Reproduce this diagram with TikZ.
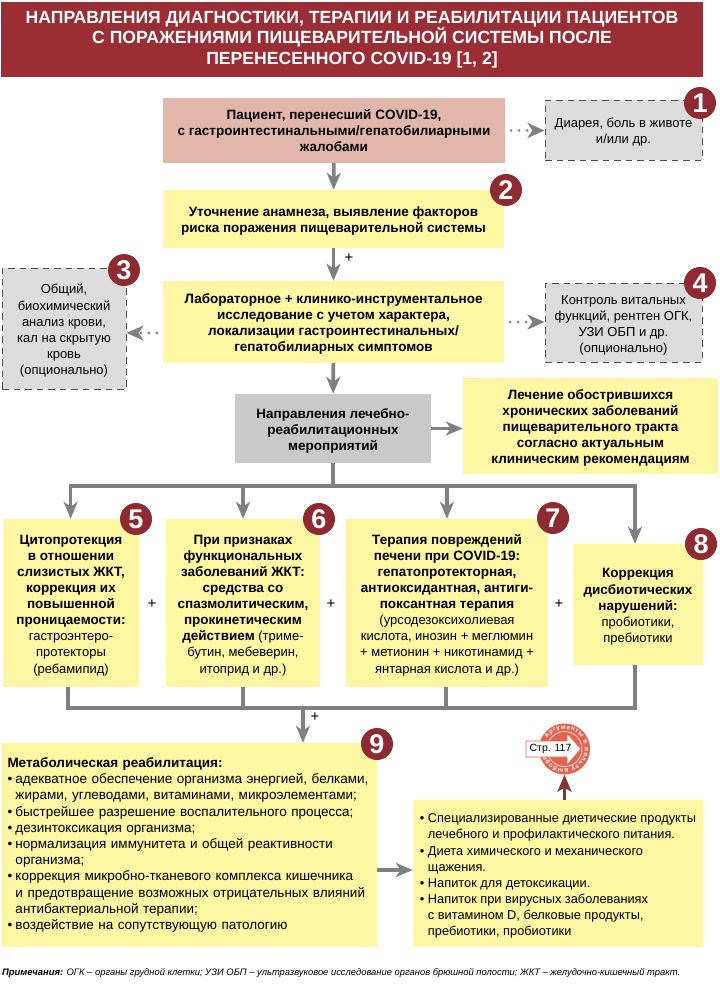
\documentclass[tikz,border=0pt]{standalone}
\usepackage{fontspec}
\setmainfont{Liberation Sans}
\usetikzlibrary{arrows.meta, decorations.text}
\definecolor{titlered}{HTML}{9B2D35}
\definecolor{badgered}{HTML}{8E2A32}
\definecolor{pinkbox}{HTML}{E2B7AB}
\definecolor{yellowbox}{HTML}{FDF6A3}
\definecolor{midgray}{HTML}{C9C9C9}
\definecolor{lightgray}{HTML}{DCDCDC}
\definecolor{linegray}{HTML}{808080}
\definecolor{stampred}{HTML}{E4644F}
\definecolor{stamparrow}{HTML}{7D3A3C}
\newcommand{\hd}{\fontsize{13.5}{16.1}\selectfont\bfseries}
\newcommand{\itm}{\makebox[8pt][l]{•}}
\newcommand{\cont}{\hspace*{8pt}}
\newcommand{\lift}{\rule{0pt}{14pt}}
\tikzset{
  plain/.style={inner sep=0pt, align=center, font=\fontsize{13}{16.1}\selectfont},
  yellow/.style={plain, fill=yellowbox},
  dashbox/.style={plain, fill=lightgray, draw=black!70, line width=1pt, dash pattern=on 6.5pt off 5pt},
  badge/.style={circle, fill=badgered, text=white, minimum size=32pt, inner sep=0pt, font=\fontsize{27}{27}\selectfont\bfseries},
  flow/.style={draw=linegray, line width=3.6pt, -{Stealth[inset=5pt, length=17pt, width=14pt]}},
  bus/.style={draw=linegray, line width=3.6pt},
  dotflow/.style={draw=linegray, line width=3pt, line cap=round, dash pattern=on 0pt off 8pt, shorten <=6pt, -{Stealth[inset=5pt, length=17pt, width=15pt]}},
  plus/.style={inner sep=0pt, font=\fontsize{15}{15}\selectfont}
}
\begin{document}
\begin{tikzpicture}[x=1pt, y=-1pt]
  \useasboundingbox (0,0) rectangle (720,988);

  \node[fill=titlered, text=white, align=center, minimum width=702pt, minimum height=75pt, inner sep=0pt,
    font=\fontsize{17.6}{20.2}\selectfont\bfseries] (title) at (352,39.5)
    {НАПРАВЛЕНИЯ ДИАГНОСТИКИ, ТЕРАПИИ И РЕАБИЛИТАЦИИ ПАЦИЕНТОВ\\
     С ПОРАЖЕНИЯМИ ПИЩЕВАРИТЕЛЬНОЙ СИСТЕМЫ ПОСЛЕ\\
     ПЕРЕНЕСЕННОГО COVID-19 [1, 2]};

  \node[plain, fill=pinkbox, minimum width=342pt, minimum height=65pt] (patient) at (334,130.5)
    {\hd Пациент, перенесший COVID-19,\\ \hd с гастроинтестинальными/гепатобилиарными\\ \hd жалобами};
  \node[yellow, minimum width=341pt, minimum height=58pt] (anamnesis) at (333.5,219)
    {\lift\hd Уточнение анамнеза, выявление факторов\\ \hd риска поражения пищеварительной системы};
  \node[yellow, minimum width=341pt, minimum height=82pt] (lab) at (333.5,322)
    {\lift\hd Лабораторное + клинико-инструментальное\\ \hd исследование с учетом характера,\\
     \hd локализации гастроинтестинальных/\\ \hd гепатобилиарных симптомов};
  \node[plain, fill=midgray, minimum width=196pt, minimum height=69pt] (directions) at (333,428.5)
    {\lift\hd Направления лечебно-\\ \hd реабилитационных\\ \hd мероприятий};
  \node[yellow, minimum width=255pt, minimum height=96pt] (chronic) at (590.5,426)
    {\lift\hd Лечение обострившихся\\ \hd хронических заболеваний\\ \hd пищеварительного тракта\\
     \hd согласно актуальным\\ \hd клиническим рекомендациям};

  \node[dashbox, minimum width=157pt, minimum height=60pt] (symptoms) at (623.5,130)
    {\lift Диарея, боль в животе\\ и/или др.};
  \node[dashbox, minimum width=124pt, minimum height=121pt] (blood) at (64,328.5)
    {\lift Общий,\\ биохимический\\ анализ крови,\\ кал на скрытую\\ кровь\\ (опционально)};
  \node[dashbox, minimum width=157pt, minimum height=79pt] (vitals) at (623.5,322.5)
    {\lift Контроль витальных\\ функций, рентген ОГК,\\ УЗИ ОБП и др.\\ (опционально)};

  \node[yellow, minimum width=136pt, minimum height=168pt] (cyto) at (71,603)
    {\lift\hd Цитопротекция\\ \hd в отношении\\ \hd слизистых ЖКТ,\\ \hd коррекция их\\ \hd повышенной\\
     \hd проницаемости:\\ гастроэнтеро-\\ протекторы\\ (ребамипид)};
  \node[yellow, minimum width=154pt, minimum height=168pt] (functional) at (243,603)
    {\lift\hd При признаках\\ \hd функциональных\\ \hd заболеваний ЖКТ:\\ \hd средства со\\ \hd спазмолитическим,\\
     \hd прокинетическим\\ {\hd действием} (триме-\\ бутин, мебеверин,\\ итоприд и др.)};
  \node[yellow, minimum width=202pt, minimum height=168pt] (liver) at (447,603)
    {\lift\hd Терапия повреждений\\ \hd печени при COVID-19:\\ \hd гепатопротекторная,\\ \hd антиоксидантная, антиги-\\ \hd поксантная терапия\\
     (урсодезоксихолиевая\\ кислота, инозин + меглюмин\\ + метионин + никотинамид +\\ янтарная кислота и др.)};
  \node[yellow, minimum width=130pt, minimum height=121pt] (dysbiosis) at (638,604.5)
    {\lift\hd Коррекция\\ \hd дисбиотических\\ \hd нарушений:\\ пробиотики,\\ пребиотики};

  \node[yellow, minimum width=375pt, minimum height=204pt, text width=364pt, align=left,
    font=\fontsize{13.5}{16.2}\selectfont] (metabolic) at (189.5,845)
    {{\hd Метаболическая реабилитация:}\\
     \itm адекватное обеспечение организма энергией, белками,\\
     \cont жирами, углеводами, витаминами, микроэлементами;\\
     \itm быстрейшее разрешение воспалительного процесса;\\
     \itm дезинтоксикация организма;\\
     \itm нормализация иммунитета и общей реактивности\\
     \cont организма;\\
     \itm коррекция микробно-тканевого комплекса кишечника\\
     \cont и предотвращение возможных отрицательных влияний\\
     \cont антибактериальной терапии;\\
     \itm воздействие на сопутствующую патологию};
  \node[yellow, minimum width=290pt, minimum height=147pt, align=left,
    font=\fontsize{12.8}{16.1}\selectfont] (diet) at (558,873.5)
    {\lift\itm Специализированные диетические продукты\\
     \cont лечебного и профилактического питания.\\
     \itm Диета химического и механического\\
     \cont щажения.\\
     \itm Напиток для детоксикации.\\
     \itm Напиток при вирусных заболеваниях\\
     \cont с витамином D, белковые продукты,\\
     \cont пребиотики, пробиотики};

  \foreach \num/\px/\py in {1/700/103, 2/506/190, 3/124/270, 4/700/283, 5/136/519, 6/319/519, 7/553/518, 8/701/544, 9/377/744} {
    \node[badge] (badge\num) at (\px,\py) {\num};
  }

  \draw[flow] (patient) -- (anamnesis);
  \draw[flow] (anamnesis) -- (lab);
  \draw[flow] (lab) -- (directions);
  \draw[flow] (directions.east) -- (directions.east -| chronic.west);
  \draw[dotflow] (patient.east) -- (patient.east -| symptoms.west);
  \draw[dotflow] (lab.east) -- (lab.east -| vitals.west);
  \draw[dotflow] ([yshift=-11pt]lab.west) -- ([yshift=-11pt]lab.west -| blood.east);

  \coordinate (topbus) at (333,486);
  \coordinate (lowbus) at (303,708);
  \draw[bus] (directions) -- (topbus);
  \draw[bus] (68.8,486) -- (636.8,486);
  \draw[bus] (66.2,708) -- (636.8,708);
  \foreach \target/\dx in {cyto/70.6, functional/243, liver/447, dysbiosis/635} {
    \coordinate (drop) at (\dx,486);
    \draw[flow] (drop) -- (drop |- \target.north);
  }
  \foreach \target/\dx in {cyto/68, functional/243, liver/446, dysbiosis/635} {
    \coordinate (rise) at (\dx,708);
    \draw[bus] (rise |- \target.south) -- (rise);
  }
  \draw[flow] (lowbus) -- (lowbus |- metabolic.north);
  \draw[flow] ([yshift=3.5pt]metabolic.east |- diet.west) -- ([yshift=3.5pt]diet.west);

  \node[plus] (plusa) at (349,258) {+};
  \node[plus] (plusb) at (152,604) {+};
  \node[plus] (plusc) at (331,604) {+};
  \node[plus] (plusd) at (559,604) {+};
  \node[plus] (pluse) at (315,717) {+};

  % stamp
  \node[circle, fill=stampred, minimum size=51pt, inner sep=0pt] (stamp) at (564.5,749) {};
  \draw[white, line width=0.6pt] (stamp) circle[radius=17.5pt];
  \path[postaction={decorate, decoration={text along path, text align=fit to path,
    text={|\fontsize{6.3}{6.3}\selectfont\bfseries\color{white}|Аргументы в пользу выбора}}}]
    (547.2,739) arc[start angle=150, end angle=-160, radius=20pt];
  \draw[stampred, fill=white, line width=0.8pt] (526,741) -- (567,741) -- (567,733) -- (581,749)
    -- (567,765) -- (567,757) -- (526,757) -- cycle;
  \node[inner sep=0pt, font=\fontsize{10.5}{12}\selectfont] (page) at (550.5,749) {Стр. 117};
  \draw[draw=stamparrow, line width=3.6pt, -{Stealth[inset=4pt, length=17pt, width=14pt]}] (diet.north -| stamp.south) -- (stamp.south);

  \node[anchor=west, inner sep=0pt, font=\fontsize{9.4}{12}\selectfont\itshape] (notes) at (2,973)
    {\textbf{Примечания:} ОГК – органы грудной клетки; УЗИ ОБП – ультразвуковое исследование органов брюшной полости; ЖКТ – желудочно-кишечный тракт.};
\end{tikzpicture}
\end{document}
